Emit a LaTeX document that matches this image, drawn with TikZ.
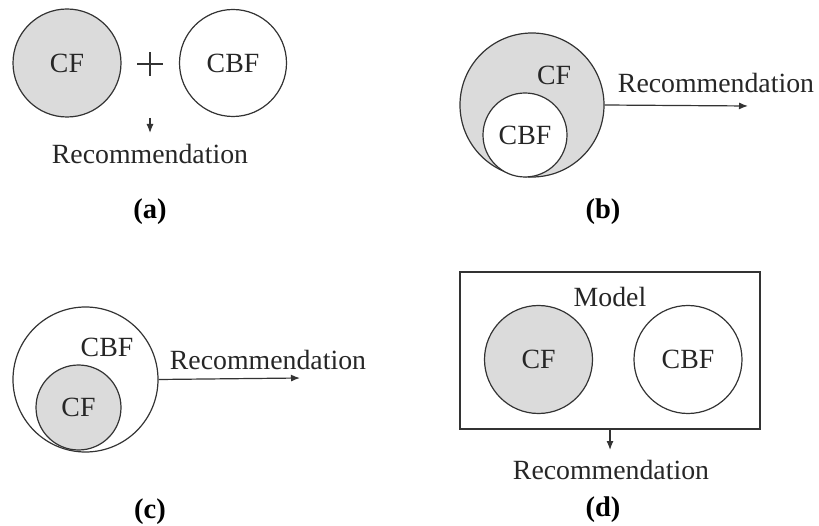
\documentclass[tikz,border=0pt]{standalone}
\usepackage{fontspec}
\setmainfont{Liberation Serif}
\usetikzlibrary{arrows.meta}
\begin{document}
\begin{tikzpicture}[x=1pt,y=-1pt,
 circ/.style={circle,draw=black!80,line width=1.2pt,inner sep=0pt,minimum size=#1,
   font=\fontsize{27.8}{30}\selectfont,text=black!85},
 grayfill/.style={fill=black!14},
 whitefill/.style={fill=white},
 lbl/.style={inner sep=0pt,font=\fontsize{27.8}{30}\selectfont,text=black!85},
 capt/.style={inner sep=0pt,font=\fontsize{28.5}{30}\selectfont\bfseries},
 arr/.style={draw=black!80,line width=1.2pt,-{Latex[length=9pt,width=7pt]}},
 boxst/.style={draw=black!80,line width=1.4pt}]
\useasboundingbox (0,0) rectangle (819,526);
% (a)
\node[circ=108pt,grayfill] (acf) at (67,63) {CF};
\node[circ=107pt] (acbf) at (233,63) {CBF};
\coordinate (pl) at (150,64);
\draw[draw=black!80,line width=1.8pt] ([xshift=-13pt]pl) -- ([xshift=13pt]pl)
  ([yshift=-12pt]pl) -- ([yshift=12pt]pl);
\coordinate (a1) at (150,118);
\coordinate (a2) at (150,133);
\draw[arr] (a1) -- (a2);
\node[lbl] (reca) at (150,154) {Recommendation};
\node[capt] (capa) at (150,212) {(a)};
% (b)
\node[circ=144pt,grayfill] (bcf) at (532,105) {};
\node[circ=84pt,whitefill] (bcbf) at (525,135) {CBF};
\node[lbl] (bcfl) at (554,75) {CF};
\coordinate (b2) at (748,106);
\draw[arr] (bcf.east) -- (b2);
\node[lbl] (recb) at (716,83) {Recommendation};
\node[capt] (capb) at (603,212) {(b)};
% (c)
\node[circ=145pt] (ccbf) at (85.5,379.5) {};
\node[circ=85pt,grayfill] (ccf) at (78.5,407.5) {CF};
\node[lbl] (ccbfl) at (107,347) {CBF};
\coordinate (c2) at (300,378);
\draw[arr] (ccbf.east) -- (c2);
\node[lbl] (recc) at (268,360) {Recommendation};
\node[capt] (capc) at (150,512) {(c)};
% (d)
\node[boxst,minimum width=300pt,minimum height=157pt,inner sep=0pt] (dbox) at (610,350.5) {};
\node[lbl] (model) at (610,297) {Model};
\node[circ=108pt,grayfill] (dcf) at (538.5,359.5) {CF};
\node[circ=108pt] (dcbf) at (688,359.5) {CBF};
\coordinate (d2) at (610,450);
\draw[arr] (dbox.south) -- (d2);
\node[lbl] (recd) at (611,470) {Recommendation};
\node[capt] (capd) at (603,510) {(d)};
\end{tikzpicture}
\end{document}
